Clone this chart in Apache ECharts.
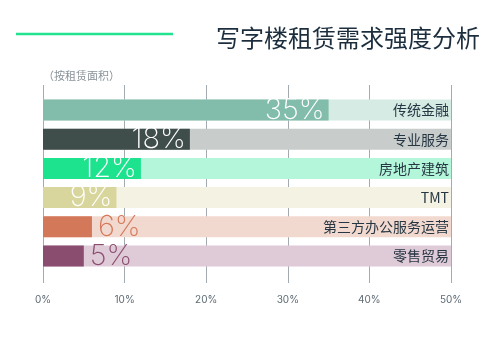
<!DOCTYPE html>
<html>
<head>
<meta charset="utf-8">
<script src="https://cdn.jsdelivr.net/npm/echarts@6/dist/echarts.min.js"></script>
<style>html,body{margin:0;padding:0;background:#fff}#c{width:500px;height:339px}</style>
</head>
<body>
<div id="c"></div>
<script>
var categories = ['传统金融', '专业服务', '房地产建筑', 'TMT', '第三方办公服务运营', '零售贸易'];
var values = [35, 18, 12, 9, 6, 5];
var axisMax = 50;
var tickLabels = ['0%', '10%', '20%', '30%', '40%', '50%'];
var barColors = ['#82bcaa', '#3f4d4b', '#1de28e', '#d8d69c', '#d4785a', '#8a4d70'];
var bgColors = ['#d5ebe4', '#c8cccb', '#b3f6d9', '#f4f2e3', '#f2d9cf', '#dfcad7'];
var labelInside = [true, true, true, true, false, false];

var chart = echarts.init(document.getElementById('c'), null, {renderer: 'canvas'});
var cjk = '"Noto Sans CJK SC", "Noto Sans", sans-serif';

var option = {
  backgroundColor: '#ffffff',
  animation: false,
  title: [
    {
      text: '写字楼租赁需求强度分析',
      right: 15, top: 21,
      textStyle: {fontFamily: cjk, fontSize: 24, fontWeight: 'normal', color: '#1c2e3e'}
    },
    {
      text: '（按租赁面积）',
      left: 38, top: 65,
      textStyle: {fontFamily: cjk, fontSize: 11, fontWeight: 'normal', color: '#8a9399'}
    }
  ],
  graphic: [
    {type: 'line', shape: {x1: 16, y1: 34, x2: 173, y2: 34}, style: {stroke: '#22e38f', lineWidth: 2.5}}
  ],
  grid: [
    {left: 43, right: 49, top: 85, bottom: 56},
    {left: 43, right: 49, top: 95.4, bottom: 68.4}
  ],
  xAxis: [
    {
      gridIndex: 0, type: 'value', min: 0, max: axisMax, interval: 10,
      axisLine: {show: false}, axisTick: {show: false},
      splitLine: {show: true, lineStyle: {color: '#a3abb0', width: 1}},
      axisLabel: {
        margin: 12, fontFamily: 'Inter, sans-serif', fontSize: 10, color: '#5e6a73',
        formatter: function (v) { return tickLabels[v / 10]; }
      }
    },
    {
      gridIndex: 1, type: 'value', min: 0, max: axisMax, show: false
    }
  ],
  yAxis: [
    {gridIndex: 0, type: 'value', show: false},
    {gridIndex: 1, type: 'category', data: categories, inverse: true, show: false}
  ],
  series: [
    {
      type: 'bar', xAxisIndex: 1, yAxisIndex: 1, barWidth: 21, silent: true,
      data: categories.map(function (c, i) {
        return {value: axisMax, itemStyle: {color: bgColors[i]}};
      }),
      label: {
        show: true, position: 'insideRight', distance: 2,
        formatter: '{b}', fontFamily: cjk, fontSize: 14, color: '#263642'
      }
    },
    {
      type: 'bar', xAxisIndex: 1, yAxisIndex: 1, barWidth: 21, barGap: '-100%',
      data: values.map(function (v, i) {
        return {
          value: v,
          itemStyle: {color: barColors[i]},
          label: labelInside[i]
            ? {position: 'insideRight', distance: 4, color: '#ffffff'}
            : {position: 'right', distance: 6, color: barColors[i]}
        };
      }),
      label: {
        show: true, formatter: '{c}%',
        fontFamily: 'Inter, Lato, sans-serif', fontWeight: 200, fontSize: 29
      }
    }
  ]
};
chart.setOption(option);
</script>
</body>
</html>
